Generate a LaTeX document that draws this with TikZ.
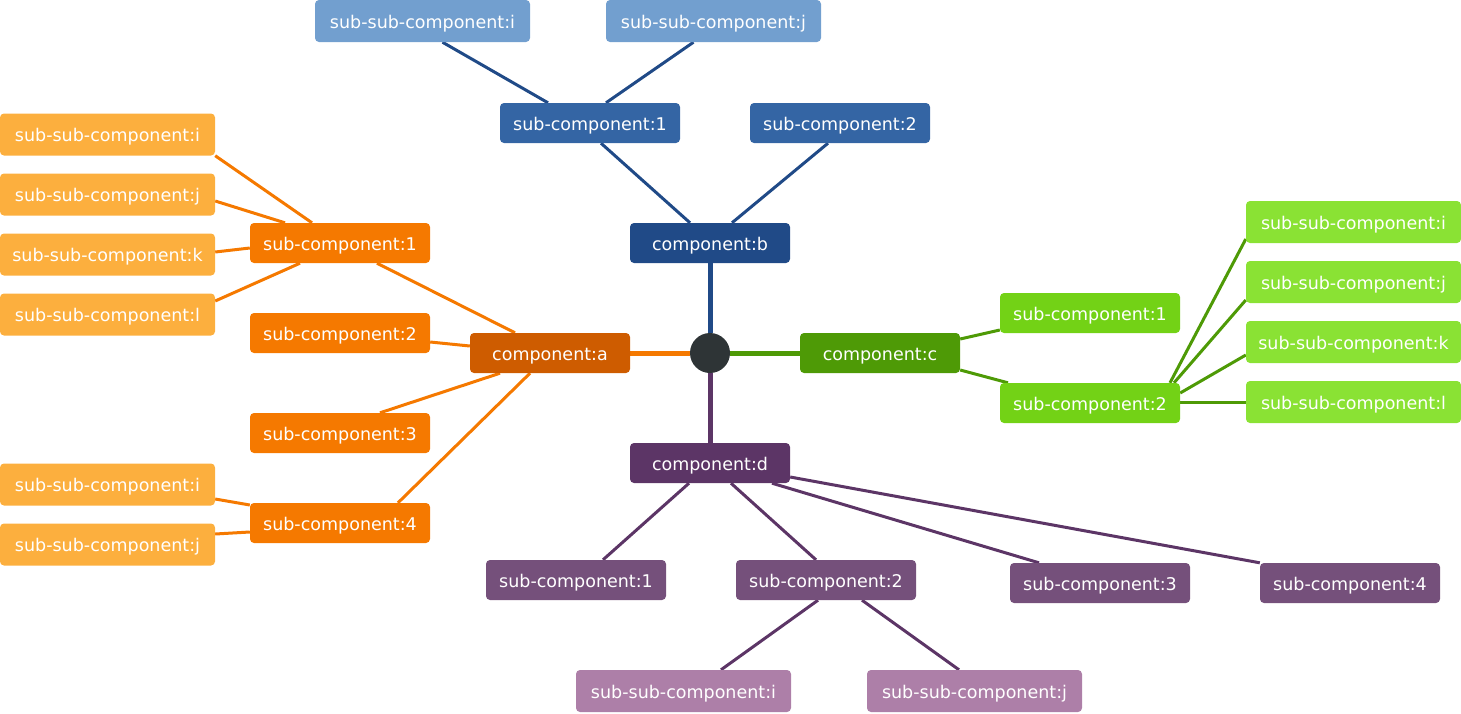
\documentclass[tikz,border=0pt]{standalone}
\usepackage{fontspec}
\setmainfont{DejaVu Sans}
\usetikzlibrary{backgrounds}
\definecolor{orangeA}{HTML}{CE5C00}
\definecolor{orangeB}{HTML}{F57900}
\definecolor{orangeC}{HTML}{FCAF3E}
\definecolor{blueA}{HTML}{204A87}
\definecolor{blueB}{HTML}{3465A4}
\definecolor{blueC}{HTML}{729FCF}
\definecolor{greenA}{HTML}{4E9A06}
\definecolor{greenB}{HTML}{73D216}
\definecolor{greenC}{HTML}{8AE234}
\definecolor{purpleA}{HTML}{5C3566}
\definecolor{purpleB}{HTML}{75507B}
\definecolor{purpleC}{HTML}{AD7FA8}
\definecolor{rootgray}{HTML}{2E3436}
\begin{document}
\begin{tikzpicture}[x=1pt, y=-1pt,
  nodebox/.style={rounded corners=4pt, inner sep=0pt, text=white,
    font=\fontsize{17.5}{21}\selectfont, text height=17pt, text depth=3pt},
  comp/.style={nodebox, minimum width=160pt, minimum height=40pt},
  sub/.style={nodebox, minimum width=180pt, minimum height=40pt},
  subsub/.style={nodebox, minimum width=215pt, minimum height=42pt},
  link/.style={line width=3pt},
  trunk/.style={line width=5pt}]
\useasboundingbox (0,0) rectangle (1461,713);

% root
\node[circle, fill=rootgray, minimum size=40pt, inner sep=0pt] (root) at (710,353) {};

% component:a (left)
\node[comp, fill=orangeA] (a) at (550,353) {component:a};
\node[sub, fill=orangeB] (a1) at (340,243) {sub-component:1};
\node[sub, fill=orangeB] (a2) at (340,333) {sub-component:2};
\node[sub, fill=orangeB] (a3) at (340,433) {sub-component:3};
\node[sub, fill=orangeB] (a4) at (340,523) {sub-component:4};
\node[subsub, fill=orangeC] (a1i) at (107.5,134.5) {sub-sub-component:i};
\node[subsub, fill=orangeC] (a1j) at (107.5,194.5) {sub-sub-component:j};
\node[subsub, fill=orangeC] (a1k) at (107.5,254.5) {sub-sub-component:k};
\node[subsub, fill=orangeC] (a1l) at (107.5,314.5) {sub-sub-component:l};
\node[subsub, fill=orangeC] (a4i) at (107.5,484.5) {sub-sub-component:i};
\node[subsub, fill=orangeC] (a4j) at (107.5,544.5) {sub-sub-component:j};

% component:b (top)
\node[comp, fill=blueA] (b) at (710,243) {component:b};
\node[sub, fill=blueB] (b1) at (590,123) {sub-component:1};
\node[sub, fill=blueB] (b2) at (840,123) {sub-component:2};
\node[subsub, fill=blueC] (b1i) at (422.5,21) {sub-sub-component:i};
\node[subsub, fill=blueC] (b1j) at (713.5,21) {sub-sub-component:j};

% component:c (right)
\node[comp, fill=greenA] (c) at (880,353) {component:c};
\node[sub, fill=greenB] (c1) at (1090,313) {sub-component:1};
\node[sub, fill=greenB] (c2) at (1090,403) {sub-component:2};
\node[subsub, fill=greenC] (c2i) at (1353.5,222) {sub-sub-component:i};
\node[subsub, fill=greenC] (c2j) at (1353.5,282) {sub-sub-component:j};
\node[subsub, fill=greenC] (c2k) at (1353.5,342) {sub-sub-component:k};
\node[subsub, fill=greenC] (c2l) at (1353.5,402) {sub-sub-component:l};

% component:d (bottom)
\node[comp, fill=purpleA] (d) at (710,463) {component:d};
\node[sub, fill=purpleB] (d1) at (576,580) {sub-component:1};
\node[sub, fill=purpleB] (d2) at (826,580) {sub-component:2};
\node[sub, fill=purpleB] (d3) at (1100,583) {sub-component:3};
\node[sub, fill=purpleB] (d4) at (1350,583) {sub-component:4};
\node[subsub, fill=purpleC] (d2i) at (683.5,691) {sub-sub-component:i};
\node[subsub, fill=purpleC] (d2j) at (974.5,691) {sub-sub-component:j};

% connectors
\begin{scope}[on background layer]
\draw[trunk, orangeB] (a.east) -- (root);
\draw[trunk, blueA] (b.south) -- (root);
\draw[trunk, greenA] (root) -- (c.west);
\draw[trunk, purpleA] (root) -- (d.north);

\draw[link, orangeB] (a1i.south east) -- ([xshift=-28pt]a1.north);
\draw[link, orangeB] ([yshift=-6.5pt]a1j.east) -- ([xshift=-55pt]a1.north);
\draw[link, orangeB] ([yshift=2.5pt]a1k.east) -- ([yshift=-5pt]a1.west);
\draw[link, orangeB] ([yshift=13.5pt]a1l.east) -- ([xshift=-40pt]a1.south);
\draw[link, orangeB] ([xshift=37pt]a1.south) -- ([xshift=-35pt]a.north);
\draw[link, orangeB] ([yshift=-9pt]a2.east) -- ([yshift=7pt]a.west);
\draw[link, orangeB] ([xshift=40pt]a3.north) -- ([xshift=-50pt]a.south);
\draw[link, orangeB] ([xshift=58pt]a4.north) -- ([xshift=-20pt]a.south);
\draw[link, orangeB] ([yshift=-14.5pt]a4i.east) -- ([yshift=18pt]a4.west);
\draw[link, orangeB] ([yshift=10.5pt]a4j.east) -- ([yshift=-9pt]a4.west);

\draw[link, blueA] ([xshift=20pt]b1i.south) -- ([xshift=-42pt]b1.north);
\draw[link, blueA] ([xshift=-20pt]b1j.south) -- ([xshift=16pt]b1.north);
\draw[link, blueA] ([xshift=11pt]b1.south) -- ([xshift=-20pt]b.north);
\draw[link, blueA] ([xshift=-12pt]b2.south) -- ([xshift=22pt]b.north);

\draw[link, greenA] ([yshift=14pt]c.east) -- ([yshift=-17pt]c1.west);
\draw[link, greenA] ([yshift=-17pt]c.east) -- ([xshift=-82pt]c2.north);
\draw[link, greenA] ([xshift=80pt]c2.north) -- ([yshift=-17pt]c2i.west);
\draw[link, greenA] ([xshift=84pt]c2.north) -- ([yshift=-18pt]c2j.west);
\draw[link, greenA] ([yshift=10pt]c2.east) -- ([yshift=-13pt]c2k.west);
\draw[link, greenA] ([yshift=1pt]c2.east) -- (c2l.west);

\draw[link, purpleA] ([xshift=-21pt]d.south) -- ([xshift=27pt]d1.north);
\draw[link, purpleA] ([xshift=21pt]d.south) -- ([xshift=-10pt]d2.north);
\draw[link, purpleA] ([xshift=62pt]d.south) -- ([xshift=-61pt]d3.north);
\draw[link, purpleA] ([yshift=-14pt]d.east) -- (d4.north west);
\draw[link, purpleA] ([xshift=-8pt]d2.south) -- ([xshift=37.5pt]d2i.north);
\draw[link, purpleA] ([xshift=36pt]d2.south) -- ([xshift=-15.5pt]d2j.north);
\end{scope}
\end{tikzpicture}
\end{document}
